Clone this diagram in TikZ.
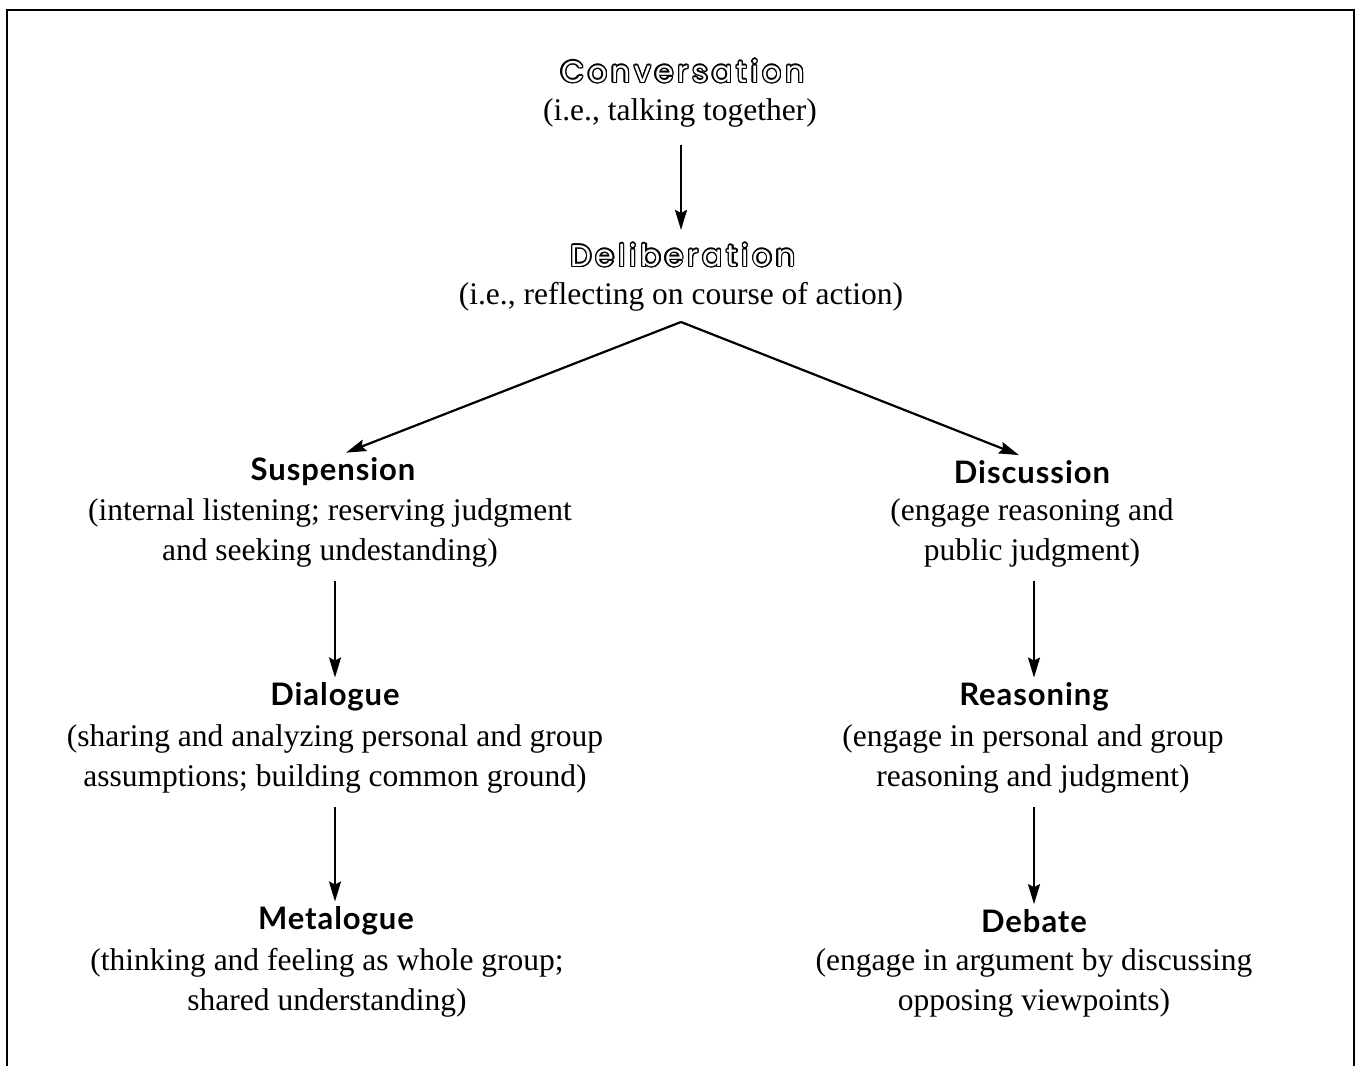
\documentclass[tikz,border=0pt]{standalone}
\usepackage{fontspec}
\setmainfont{Liberation Serif}
\newfontfamily\headfont[LetterSpace=3]{Lato}
\newfontfamily\outfont[LetterSpace=13]{Poppins}
\usetikzlibrary{arrows.meta}
\newcommand\outlinetext[1]{%
  \leavevmode
  \foreach \ang in {0,22.5,...,337.5}{%
    \pgfmathsetlengthmacro\ox{1.3pt*cos(\ang)}%
    \pgfmathsetlengthmacro\oy{1.3pt*sin(\ang)}%
    \rlap{\hspace*{\ox}\raisebox{\oy}{\color{black}#1}}%
  }%
  {\color{white}#1}%
}
\begin{document}
\begin{tikzpicture}[x=1pt,y=-1pt,
  title/.style={font=\headfont\bfseries\fontsize{31}{34}\selectfont, inner sep=0pt},
  desc/.style={font=\fontsize{31.5}{40}\selectfont, align=center, inner sep=0pt},
  outl/.style={font=\outfont\fontsize{30}{32}\selectfont, inner sep=0pt},
  arr/.style={line width=2.2pt, -{Stealth[length=20pt,width=12pt,inset=3pt]}},
  frame/.style={line width=2pt}]
\useasboundingbox (0,0) rectangle (1358,1066);
\draw[frame] (7,1066) -- (7,10) -- (1354,10) -- (1354,1066);

\node[outl] (conv) at (683,71) {\outlinetext{Conversation}};
\node[desc] (convd) at (680,113) {(i.e., talking together)};
\node[outl] (delib) at (683,255) {\outlinetext{Deliberation}};
\node[desc] (delibd) at (681,297) {(i.e., reflecting on course of action)};
\coordinate (apex) at (681,322);

\node[title] (susp) at (333,472) {Suspension};
\node[desc] (suspd) at (330,533) {(internal listening; reserving judgment\\and seeking undestanding)};
\node[title] (dial) at (335,697) {Dialogue};
\node[desc] (diald) at (335,759) {(sharing and analyzing personal and group\\assumptions; building common ground)};
\node[title] (meta) at (336,921) {Metalogue};
\node[desc] (metad) at (327,983) {(thinking and feeling as whole group;\\shared understanding)};

\node[title] (disc) at (1032,472) {Discussion};
\node[desc] (discd) at (1032,533) {(engage reasoning and\\public judgment)};
\node[title] (reas) at (1034,697) {Reasoning};
\node[desc] (reasd) at (1033,759) {(engage in personal and group\\reasoning and judgment)};
\node[title] (deb) at (1034,921) {Debate};
\node[desc] (debd) at (1034,983) {(engage in argument by discussing\\opposing viewpoints)};

\draw[arr, shorten <=17pt, shorten >=12pt] (convd.south -| apex) -- (delib.north -| apex);
\draw[arr, shorten >=14pt] (apex) -- (susp.north);
\draw[arr, shorten >=14pt] (apex) -- (disc.north);
\draw[arr, shorten <=13pt, shorten >=5pt] (dial.north |- suspd.south) -- (dial.north);
\draw[arr, shorten <=13pt, shorten >=5pt] (dial.north |- diald.south) -- (meta.north -| dial.north);
\draw[arr, shorten <=13pt, shorten >=5pt] (reas.north |- discd.south) -- (reas.north);
\draw[arr, shorten <=13pt, shorten >=5pt] (reas.north |- reasd.south) -- (deb.north -| reas.north);
\end{tikzpicture}
\end{document}
